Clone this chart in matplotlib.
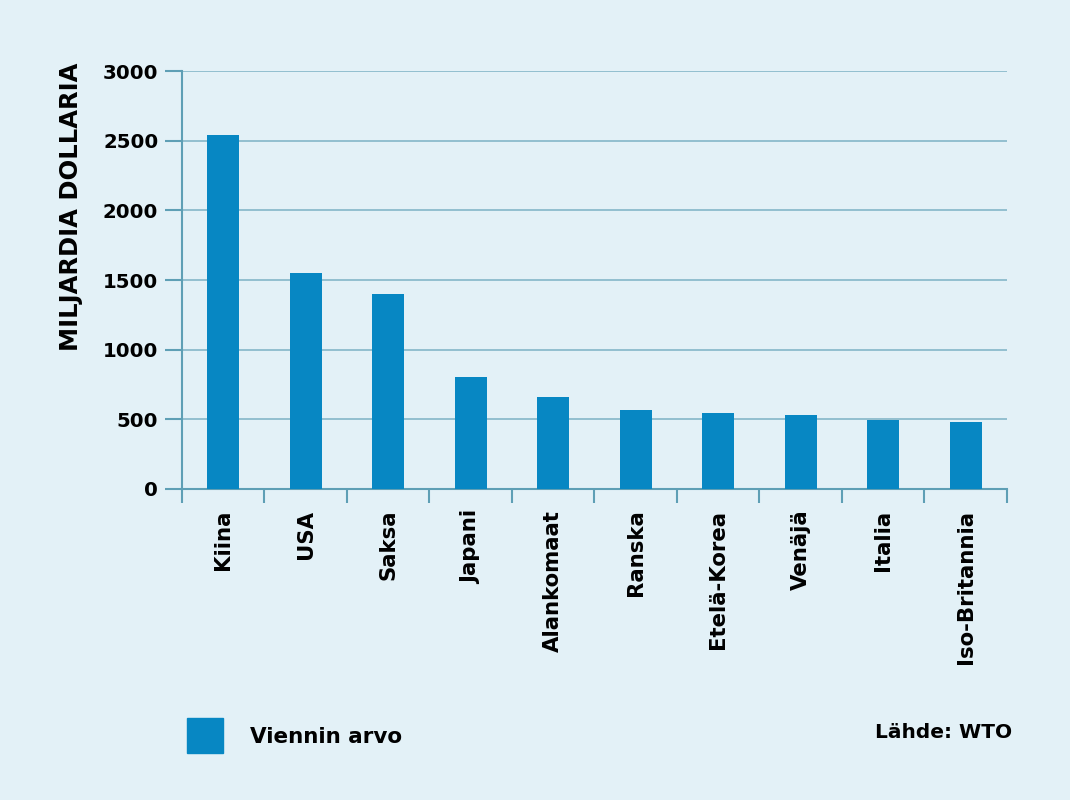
import matplotlib
matplotlib.use("Agg")
import matplotlib.pyplot as plt
import numpy as np

# data
maat = ["Kiina", "USA", "Saksa", "Japani", "Alankomaat", "Ranska",
        "Etelä-Korea", "Venäjä", "Italia", "Iso-Britannia"]
vienti = [2540, 1550, 1400, 800, 660, 567, 545, 528, 497, 481]
y_ticks = [0, 500, 1000, 1500, 2000, 2500, 3000]

bg = "#e3f1f7"
bar_col = "#0787c3"
line_col = "#5e9fb5"

plt.rcParams['font.family'] = ['DejaVu Sans']

fig = plt.figure(figsize=(10.7, 8), dpi=100, facecolor=bg)
ax = fig.add_axes([0.170, 0.389, 0.771, 0.522])
ax.set_facecolor(bg)

x = np.arange(len(maat))
ax.bar(x, vienti, width=0.39, color=bar_col, zorder=3)

ax.set_xlim(-0.5, len(maat) - 0.5)
ax.set_ylim(0, 3000)
ax.set_yticks(y_ticks)
ax.set_yticklabels([str(t) for t in y_ticks], fontsize=14.2, fontweight='bold')
ax.yaxis.grid(True, color=line_col, linewidth=1.2, alpha=0.7, zorder=0)

# x ticks sit between categories, labels in the middle
ax.set_xticks(np.arange(-0.5, len(maat), 1.0))
ax.set_xticklabels([])
ax.set_xticks(x, minor=True)
ax.set_xticklabels(maat, minor=True, rotation=90, fontsize=15.3,
                   fontweight='bold', va='top')
ax.tick_params(axis='x', which='minor', length=0, pad=15)
ax.tick_params(axis='x', which='major', length=10, width=1.5, color=line_col)
ax.tick_params(axis='y', length=12, width=1.5, color=line_col, pad=5)

for s in ['top', 'right']:
    ax.spines[s].set_visible(False)
for s in ['left', 'bottom']:
    ax.spines[s].set_color(line_col)
    ax.spines[s].set_linewidth(1.5)

fig.text(0.066, 0.741, "MILJARDIA DOLLARIA", rotation=90, ha='center',
         va='center', fontsize=17.5, fontweight='bold')

# legend square and source note
fig.patches.append(plt.Rectangle((187 / 1070, 1 - 753 / 800), 36 / 1070, 35 / 800,
                                 transform=fig.transFigure, color=bar_col))
fig.text(250 / 1070, 1 - 737 / 800, "Viennin arvo", fontsize=15.5,
         fontweight='bold', va='center')
fig.text(1012 / 1070, 1 - 733 / 800, "Lähde: WTO", fontsize=14.5,
         fontweight='bold', va='center', ha='right')

plt.savefig("out.png", dpi=100, facecolor=bg)
